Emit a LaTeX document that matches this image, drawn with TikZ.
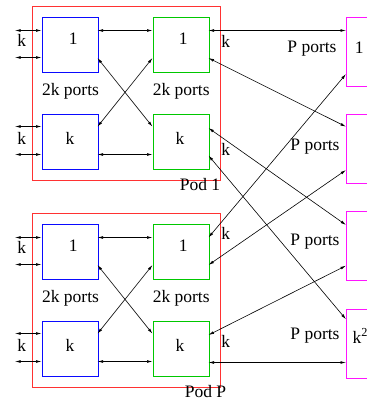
\documentclass[tikz,border=0pt]{standalone}
\usepackage{fontspec}
\setmainfont{Liberation Serif}
\usetikzlibrary{arrows.meta}
\definecolor{xred}{RGB}{255,50,50}
\definecolor{xblue}{RGB}{10,10,255}
\definecolor{xgreen}{RGB}{0,200,0}
\definecolor{xmag}{RGB}{255,20,255}
\begin{document}
\begin{tikzpicture}[x=1pt,y=-1pt,
  conn/.style={line width=0.6pt, {Latex[length=5.5pt,width=2.8pt]}-{Latex[length=5.5pt,width=2.8pt]}},
  podbox/.style={draw=xred, line width=1.4pt, minimum width=188pt, minimum height=174pt, inner sep=0pt, anchor=north west},
  sw/.style={line width=1.4pt, minimum width=56pt, minimum height=55.5pt, inner sep=0pt, anchor=north west},
  edgesw/.style={sw, draw=xblue},
  aggsw/.style={sw, draw=xgreen},
  coresw/.style={line width=1.4pt, draw=xmag, minimum width=60pt, minimum height=69pt, inner sep=0pt, anchor=north west},
  txt/.style={font=\fontsize{17.5}{20}\selectfont, inner sep=0pt}
]
\useasboundingbox (0,0) rectangle (367,405);

% core switches
\node[coresw] (m1) at (346,16.5) {};
\node[coresw] (m2) at (346,114) {};
\node[coresw] (m3) at (346,211) {};
\node[coresw] (m4) at (346,308.5) {};
\node[txt] (m1t) at (359.3,48) {1};
\node[txt,anchor=west] (m4t) at (352.5,336) {k\textsuperscript{2}};
\node[txt] (pp1) at (312,49) {P ports};
\node[txt] (pp2) at (315,146.5) {P ports};
\node[txt] (pp3) at (315,242) {P ports};
\node[txt] (pp4) at (315,335.5) {P ports};
\coordinate (m1a) at (346,30.5);
\coordinate (m1b) at (346,74);
\coordinate (m2a) at (346,126.7);
\coordinate (m2b) at (346,170);
\coordinate (m3a) at (346,225);
\coordinate (m3b) at (346,265.7);
\coordinate (m4a) at (346,319.3);
\coordinate (m4b) at (346,362.5);

\foreach \p/\dy/\kra/\krb/\px in {1/0/41.7/149.3/200, P/207/26.3/134.7/205.5}{
\begin{scope}[shift={(0,\dy)}]
  \node[podbox] (pod\p) at (31.5,5.5) {};
  \node[edgesw] (eA\p) at (41.5,16.5) {};
  \node[aggsw] (aA\p) at (152.5,16.5) {};
  \node[edgesw] (eK\p) at (41.5,113.5) {};
  \node[aggsw] (aK\p) at (152.5,113.5) {};
  \node[txt] (eAt\p) at (73.3,38.5) {1};
  \node[txt] (aAt\p) at (183.3,38.5) {1};
  \node[txt] (eKt\p) at (70,138.3) {k};
  \node[txt] (aKt\p) at (180,138.3) {k};
  \node[txt] (ep\p) at (70.5,91) {2k ports};
  \node[txt] (ap\p) at (181.2,91) {2k ports};
  \node[txt] (kl1\p) at (21.7,40) {k};
  \node[txt] (kl2\p) at (21.7,138.5) {k};
  \node[txt] (kr1\p) at (225.7,\kra) {k};
  \node[txt] (kr2\p) at (225.7,\krb) {k};
  \node[txt] (podt\p) at (\px,185) {Pod \p};
  % free ends on the left
  \coordinate (f1\p) at (15,30.5);
  \coordinate (f2\p) at (15,57.5);
  \coordinate (f3\p) at (15,126.5);
  \coordinate (f4\p) at (15,154.5);
  % ports
  \coordinate (eA1\p) at (41.5,30.5);
  \coordinate (eA2\p) at (41.5,57.5);
  \coordinate (eK1\p) at (41.5,126.5);
  \coordinate (eK2\p) at (41.5,154.5);
  \coordinate (eAr1\p) at (97.5,30.5);
  \coordinate (eAr2\p) at (97.5,58);
  \coordinate (eKr1\p) at (97.5,126.7);
  \coordinate (eKr2\p) at (97.5,154.5);
  \coordinate (aAl1\p) at (152.5,30.5);
  \coordinate (aAl2\p) at (152.5,58);
  \coordinate (aKl1\p) at (152.5,126.7);
  \coordinate (aKl2\p) at (152.5,154.5);
  \coordinate (aAr1\p) at (208.5,30.5);
  \coordinate (aAr2\p) at (208.5,58);
  \coordinate (aKr1\p) at (208.5,128);
  \coordinate (aKr2\p) at (208.5,155.5);
  \draw[conn] (f1\p) -- (eA1\p);
  \draw[conn] (f2\p) -- (eA2\p);
  \draw[conn] (f3\p) -- (eK1\p);
  \draw[conn] (f4\p) -- (eK2\p);
  \draw[conn] (eAr1\p) -- (aAl1\p);
  \draw[conn] (eKr2\p) -- (aKl2\p);
  \draw[conn] (eAr2\p) -- (aKl1\p);
  \draw[conn] (aAl2\p) -- (eKr1\p);
\end{scope}
}

% pod to core links
\draw[conn] (aAr11) -- (m1a);
\draw[conn] (aAr21) -- (m2a);
\draw[conn] (aKr11) -- (m3a);
\draw[conn] (aKr21) -- (m4a);
\draw[conn] (aAr1P) -- (m1b);
\draw[conn] (aAr2P) -- (m2b);
\draw[conn] (aKr1P) -- (m3b);
\draw[conn] (aKr2P) -- (m4b);
\end{tikzpicture}
\end{document}
